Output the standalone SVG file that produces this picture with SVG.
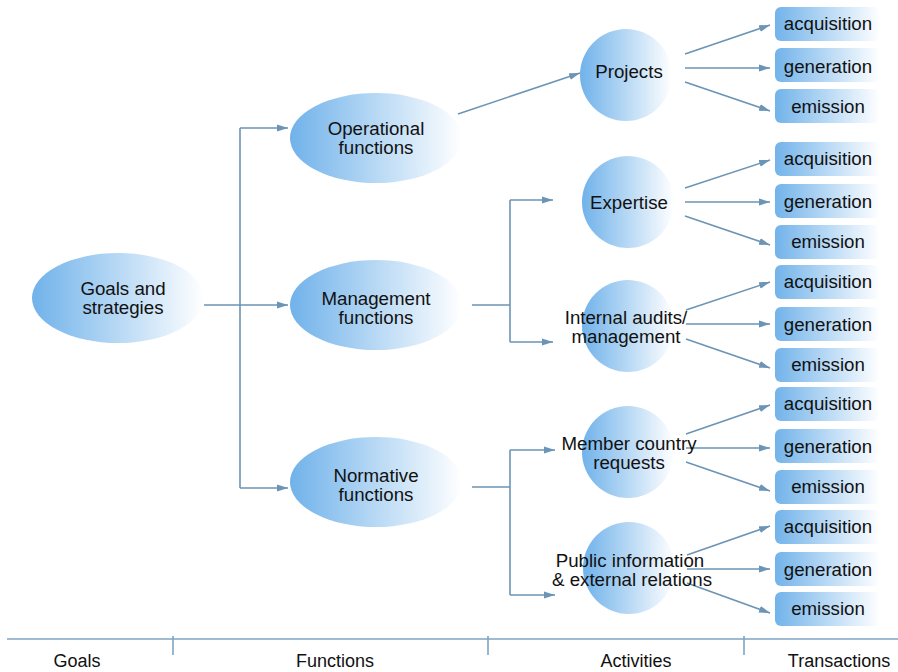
<svg xmlns="http://www.w3.org/2000/svg" width="898" height="672" viewBox="0 0 898 672">
<defs>
<linearGradient id="g" x1="0" y1="0" x2="1" y2="0">
<stop offset="0" stop-color="#70b2ea"/>
<stop offset="1" stop-color="#ffffff"/>
</linearGradient>
<linearGradient id="gb" x1="0" y1="0" x2="1" y2="0">
<stop offset="0" stop-color="#72b3ea"/>
<stop offset="1" stop-color="#ffffff"/>
</linearGradient>
<marker id="ah" markerWidth="12" markerHeight="8" refX="11" refY="4" orient="auto" markerUnits="userSpaceOnUse">
<path d="M0,0.5 L11,4 L0,7.5 Z" fill="#6b94b5"/>
</marker>
<style>
text{font-family:"Liberation Sans",Arial,sans-serif;font-size:18.7px;fill:#111;text-anchor:middle}
.n{fill:url(#g)}
.b{fill:url(#gb)}
.c line,.c polyline{stroke:#6b94b5;stroke-width:1.6;fill:none}
.a{marker-end:url(#ah)}
.ax{stroke:#7ea4c4;stroke-width:1.6}
.t{font-size:18px;fill:#111}
</style>
</defs>
<rect width="898" height="672" fill="#fff"/>
<g class="c" id="connectors">
<line x1="204" y1="305" x2="240" y2="305"/>
<line x1="240" y1="128" x2="240" y2="488"/>
<line class="a" x1="240" y1="128" x2="288" y2="128"/>
<line class="a" x1="240" y1="305" x2="288" y2="305"/>
<line class="a" x1="240" y1="488" x2="288" y2="488"/>
<line class="a" x1="458" y1="114" x2="580" y2="73"/>
<line x1="472" y1="305" x2="510" y2="305"/>
<line x1="510" y1="200" x2="510" y2="342"/>
<line class="a" x1="510" y1="200" x2="553" y2="200"/>
<line class="a" x1="510" y1="342" x2="553" y2="342"/>
<line x1="472" y1="487" x2="510" y2="487"/>
<line x1="510" y1="450" x2="510" y2="595"/>
<line class="a" x1="510" y1="450" x2="555" y2="450"/>
<line class="a" x1="510" y1="595" x2="555" y2="595"/>
<line class="a" x1="685" y1="54" x2="770" y2="25"/>
<line class="a" x1="685" y1="68" x2="770" y2="68"/>
<line class="a" x1="685" y1="82" x2="770" y2="111"/>
<line class="a" x1="685" y1="188" x2="770" y2="160"/>
<line class="a" x1="685" y1="202" x2="770" y2="202"/>
<line class="a" x1="685" y1="216" x2="770" y2="245"/>
<line class="a" x1="686" y1="310" x2="770" y2="282"/>
<line class="a" x1="686" y1="324" x2="770" y2="324"/>
<line class="a" x1="686" y1="339" x2="770" y2="368"/>
<line class="a" x1="686" y1="434" x2="770" y2="405"/>
<line class="a" x1="686" y1="448" x2="770" y2="448"/>
<line class="a" x1="686" y1="462" x2="770" y2="491"/>
<line class="a" x1="687" y1="555" x2="770" y2="526"/>
<line class="a" x1="687" y1="569" x2="770" y2="569"/>
<line class="a" x1="687" y1="583" x2="770" y2="613"/>
</g>
<g id="goals"><ellipse class="n" cx="118" cy="298" rx="86" ry="45"/><text x="123" y="295">Goals and</text><text x="123" y="314">strategies</text></g>
<g id="operational"><ellipse class="n" cx="376" cy="138" rx="86" ry="45"/><text x="376" y="135">Operational</text><text x="376" y="154">functions</text></g>
<g id="management"><ellipse class="n" cx="376" cy="305" rx="86" ry="45"/><text x="376" y="305">Management</text><text x="376" y="324">functions</text></g>
<g id="normative"><ellipse class="n" cx="376" cy="482" rx="86" ry="45"/><text x="376" y="482">Normative</text><text x="376" y="501">functions</text></g>
<g id="projects"><circle class="n" cx="626" cy="75" r="46"/><text x="629" y="78">Projects</text></g>
<g id="expertise"><circle class="n" cx="628" cy="202" r="46"/><text x="629" y="209">Expertise</text></g>
<g id="audits"><circle class="n" cx="628" cy="326" r="46"/><text x="626" y="324">Internal audits/</text><text x="626" y="343">management</text></g>
<g id="member"><circle class="n" cx="628" cy="452" r="46"/><text x="629" y="450">Member country</text><text x="629" y="469">requests</text></g>
<g id="public"><circle class="n" cx="629" cy="568" r="46"/><text x="630" y="567">Public information</text><text x="632" y="586">&amp; external relations</text></g>
<g id="t1a"><rect class="b" x="775" y="7" width="105" height="34" rx="6"/><text x="828" y="30">acquisition</text></g>
<g id="t1g"><rect class="b" x="775" y="48" width="105" height="34" rx="6"/><text x="828" y="73">generation</text></g>
<g id="t1e"><rect class="b" x="775" y="89" width="105" height="34" rx="6"/><text x="828" y="113">emission</text></g>
<g id="t2a"><rect class="b" x="775" y="142" width="105" height="34" rx="6"/><text x="828" y="165">acquisition</text></g>
<g id="t2g"><rect class="b" x="775" y="184" width="105" height="34" rx="6"/><text x="828" y="208">generation</text></g>
<g id="t2e"><rect class="b" x="775" y="225" width="105" height="34" rx="6"/><text x="828" y="248">emission</text></g>
<g id="t3a"><rect class="b" x="775" y="265" width="105" height="34" rx="6"/><text x="828" y="288">acquisition</text></g>
<g id="t3g"><rect class="b" x="775" y="307" width="105" height="34" rx="6"/><text x="828" y="331">generation</text></g>
<g id="t3e"><rect class="b" x="775" y="348" width="105" height="34" rx="6"/><text x="828" y="371">emission</text></g>
<g id="t4a"><rect class="b" x="775" y="387" width="105" height="34" rx="6"/><text x="828" y="410">acquisition</text></g>
<g id="t4g"><rect class="b" x="775" y="429" width="105" height="34" rx="6"/><text x="828" y="453">generation</text></g>
<g id="t4e"><rect class="b" x="775" y="470" width="105" height="34" rx="6"/><text x="828" y="493">emission</text></g>
<g id="t5a"><rect class="b" x="775" y="510" width="105" height="34" rx="6"/><text x="828" y="533">acquisition</text></g>
<g id="t5g"><rect class="b" x="775" y="552" width="105" height="34" rx="6"/><text x="828" y="576">generation</text></g>
<g id="t5e"><rect class="b" x="775" y="592" width="105" height="34" rx="6"/><text x="828" y="615">emission</text></g>
<g id="axis">
<line class="ax" x1="7" y1="639" x2="898" y2="639"/>
<line class="ax" x1="173" y1="636" x2="173" y2="655"/>
<line class="ax" x1="488" y1="636" x2="488" y2="655"/>
<line class="ax" x1="744" y1="636" x2="744" y2="655"/>
<text class="t" x="77" y="667">Goals</text>
<text class="t" x="335" y="667">Functions</text>
<text class="t" x="636" y="667">Activities</text>
<text class="t" x="839" y="667">Transactions</text>
</g>
</svg>
